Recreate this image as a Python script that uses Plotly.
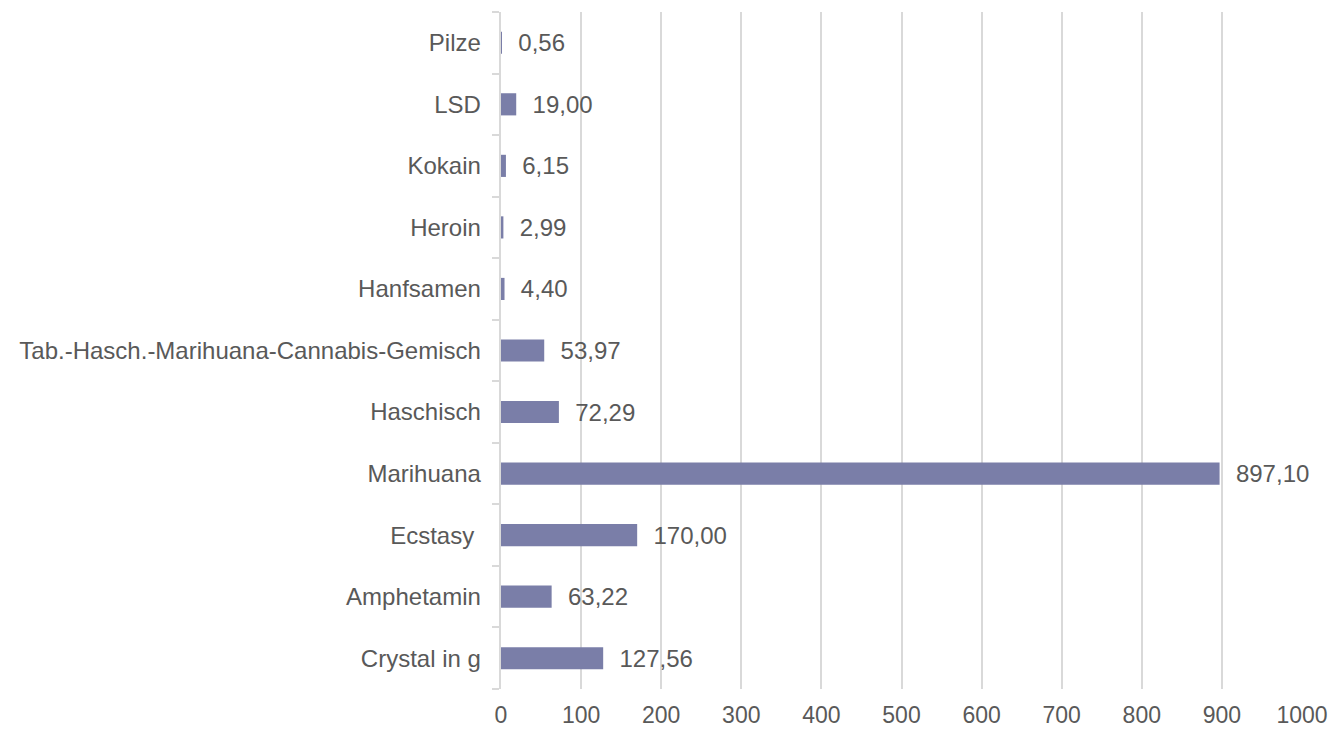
import plotly.graph_objects as go

categories = ["Crystal in g", "Amphetamin", "Ecstasy ", "Marihuana", "Haschisch",
              "Tab.-Hasch.-Marihuana-Cannabis-Gemisch", "Hanfsamen", "Heroin",
              "Kokain", "LSD", "Pilze"]
values = [127.56, 63.22, 170.00, 897.10, 72.29, 53.97, 4.40, 2.99, 6.15, 19.00, 0.56]
x_ticks = [0, 100, 200, 300, 400, 500, 600, 700, 800, 900, 1000]

FONT = "Liberation Sans, Arial"
GRAY = "#595959"

fig = go.Figure(go.Bar(
    y=categories, x=values, orientation="h",
    marker=dict(color="#7a7ea8", line=dict(width=0)),
    width=0.36,
    texttemplate="\u00a0\u00a0%{x:.2f}",
    textposition="outside",
    constraintext="none",
    textfont=dict(family=FONT, size=24, color=GRAY),
    cliponaxis=False,
))

fig.update_layout(
    width=1332, height=730,
    margin=dict(l=501, r=30, t=12, b=41, autoexpand=False),
    paper_bgcolor="white", plot_bgcolor="white",
    separators=", ",
    showlegend=False,
    font=dict(family=FONT, size=24, color=GRAY),
    xaxis=dict(range=[0, 1000], tickvals=x_ticks, showgrid=True, gridcolor="#d9d9d9",
               gridwidth=2, zeroline=False, showline=False,
               ticks="outside", ticklen=5, tickcolor="rgba(0,0,0,0)",
               tickfont=dict(size=23, color=GRAY)),
    yaxis=dict(categoryorder="array", categoryarray=categories, showline=True,
               linecolor="#d9d9d9", linewidth=2, ticks="outside", tickson="boundaries",
               ticklen=7, tickcolor="#d9d9d9", tickwidth=2, showgrid=False,
               ticksuffix="\u00a0\u00a0", tickfont=dict(size=24, color=GRAY)),
)

fig.write_html("out.html", config={"displayModeBar": False},
               post_script="document.body.style.margin='0';")
